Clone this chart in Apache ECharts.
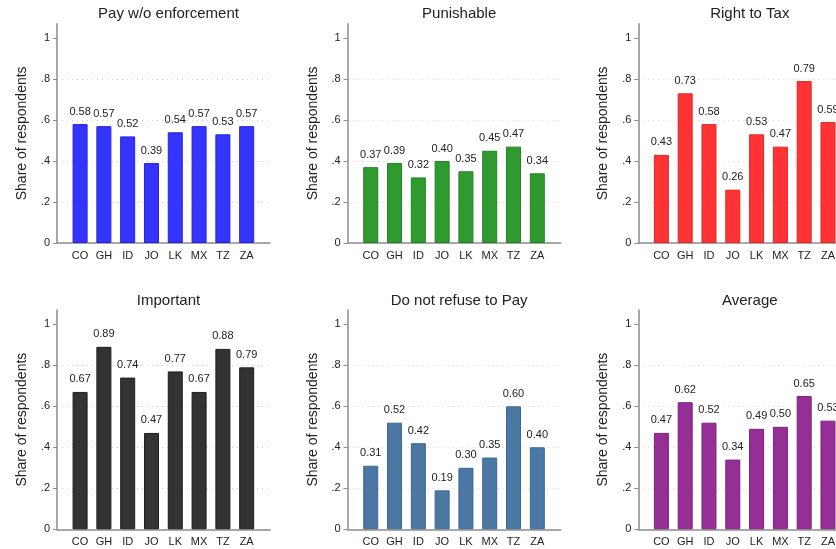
<!DOCTYPE html>
<html>
<head>
<meta charset="utf-8">
<title>Share of respondents by country</title>
<script src="https://cdn.jsdelivr.net/npm/echarts@6/dist/echarts.min.js"></script>
<style>
  html, body { margin: 0; padding: 0; background: #fff; }
  #chart { width: 836px; height: 549px; }
</style>
</head>
<body>
<div id="chart"></div>
<script>
// Countries on the x axis
const countries = ['CO', 'GH', 'ID', 'JO', 'LK', 'MX', 'TZ', 'ZA'];

// Share of respondents per question
const payWithoutEnforcement = [0.58, 0.57, 0.52, 0.39, 0.54, 0.57, 0.53, 0.57];
const punishable            = [0.37, 0.39, 0.32, 0.40, 0.35, 0.45, 0.47, 0.34];
const rightToTax            = [0.43, 0.73, 0.58, 0.26, 0.53, 0.47, 0.79, 0.59];
const important             = [0.67, 0.89, 0.74, 0.47, 0.77, 0.67, 0.88, 0.79];
const doNotRefuse           = [0.31, 0.52, 0.42, 0.19, 0.30, 0.35, 0.60, 0.40];
const average               = [0.47, 0.62, 0.52, 0.34, 0.49, 0.50, 0.65, 0.53];

// Y tick labels
const yTickValues = [0, 0.2, 0.4, 0.6, 0.8, 1];
const yTickLabels = ['0', '.2', '.4', '.6', '.8', '1'];

const panels = [
  { title: 'Pay w/o enforcement', data: payWithoutEnforcement, fill: '#3434fc', edge: '#2222dc' },
  { title: 'Punishable',          data: punishable,            fill: '#2f9a2f', edge: '#248224' },
  { title: 'Right to Tax',        data: rightToTax,            fill: '#ff3333', edge: '#e22626' },
  { title: 'Important',           data: important,             fill: '#333333', edge: '#1c1c1c' },
  { title: 'Do not refuse to Pay', data: doNotRefuse,          fill: '#4a78a3', edge: '#3b6790' },
  { title: 'Average',             data: average,               fill: '#952f95', edge: '#7d227d' }
];

const FONT = '"Liberation Sans", Arial, sans-serif';
const YMAX = 1.07;
const PX_PER_UNIT = 205;
const PLOT_W = 213;
const COL_STEP = 290.65;
const ROW_STEP = 286.3;

const grids = [], xAxes = [], yAxes = [], series = [], titles = [];

panels.forEach((p, k) => {
  const row = Math.floor(k / 3), col = k % 3;
  const left = 57 + col * COL_STEP;
  const zeroY = 243 + row * ROW_STEP;
  const h = YMAX * PX_PER_UNIT;

  // The right-hand column runs past the page edge and is clipped there
  grids.push({
    left: left, top: zeroY - h, width: PLOT_W, height: h,
    containLabel: false, outerBoundsMode: 'none'
  });

  titles.push({
    text: p.title,
    left: left + PLOT_W / 2,
    top: zeroY - h - 22,
    textAlign: 'center',
    textStyle: { fontFamily: FONT, fontSize: 15, fontWeight: 'normal', color: '#222' }
  });

  xAxes.push({
    gridIndex: k,
    type: 'value',
    min: -0.97,
    max: 7.98,
    axisLine: { show: true, onZero: false, lineStyle: { color: '#8c8c8c', width: 1.5 } },
    axisTick: { show: false },
    splitLine: { show: false },
    axisLabel: {
      customValues: countries.map((_, i) => i),
      formatter: v => countries[Math.round(v)],
      fontFamily: FONT, fontSize: 11, color: '#222', margin: 7
    }
  });

  yAxes.push({
    gridIndex: k,
    type: 'value',
    min: 0,
    max: YMAX,
    name: 'Share of respondents',
    nameLocation: 'middle',
    nameGap: 28,
    nameTextStyle: { fontFamily: FONT, fontSize: 14, color: '#222' },
    axisLine: { show: true, onZero: false, lineStyle: { color: '#8c8c8c', width: 1.5 } },
    axisTick: { show: true, length: 4, customValues: yTickValues, lineStyle: { color: '#8c8c8c' } },
    axisLabel: {
      customValues: yTickValues,
      formatter: v => yTickLabels[yTickValues.findIndex(t => Math.abs(t - v) < 1e-6)],
      fontFamily: FONT, fontSize: 11, color: '#222', margin: 7
    },
    splitLine: {
      show: true, showMinLine: false, showMaxLine: false,
      lineStyle: { color: '#cfcfcf', type: [1, 4], width: 1 }
    }
  });

  series.push({
    type: 'bar',
    xAxisIndex: k,
    yAxisIndex: k,
    barWidth: 15,
    data: p.data.map((v, i) => [i, v]),
    itemStyle: { color: p.fill, borderColor: p.edge, borderWidth: 1 },
    label: {
      show: true,
      position: 'top',
      distance: 7,
      formatter: d => d.value[1].toFixed(2),
      fontFamily: FONT, fontSize: 11, color: '#222'
    },
    silent: true,
    animation: false
  });
});

const chart = echarts.init(document.getElementById('chart'), null, { renderer: 'canvas' });
chart.setOption({
  backgroundColor: '#ffffff',
  animation: false,
  title: titles,
  grid: grids,
  xAxis: xAxes,
  yAxis: yAxes,
  series: series
});
</script>
</body>
</html>
